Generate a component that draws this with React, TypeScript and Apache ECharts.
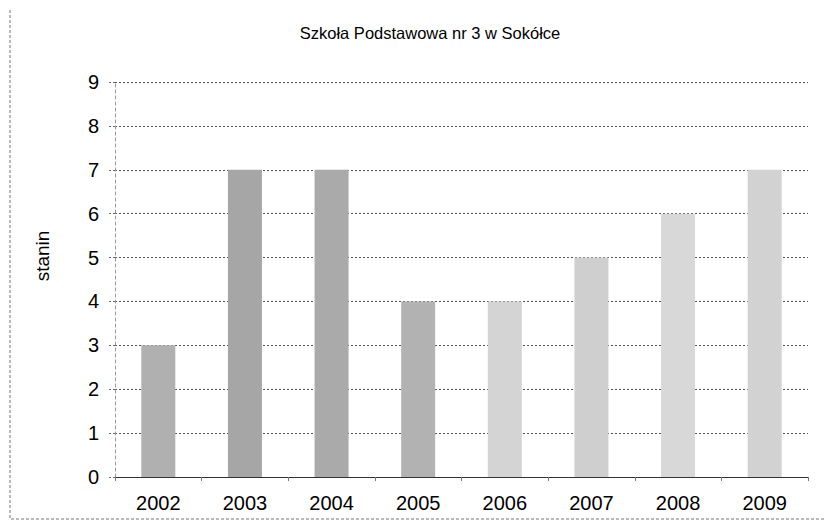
import React, { useEffect, useRef } from "react";
import * as echarts from "echarts";

const titleText = "Szkoła Podstawowa nr 3 w Sokółce";
const yAxisName = "stanin";
const years = ["2002", "2003", "2004", "2005", "2006", "2007", "2008", "2009"];
const stanin = [3, 7, 7, 4, 4, 5, 6, 7];
const barColors = ["#b0b0b0", "#a6a6a6", "#aaaaaa", "#b2b2b2", "#d4d4d4", "#cfcfcf", "#d8d8d8", "#d2d2d2"];

const FONT = "Liberation Sans, Arial, sans-serif";

export default function App() {
  const ref = useRef<HTMLDivElement>(null);
  useEffect(() => {
    if (!ref.current) return;
    const chart = echarts.init(ref.current, undefined, { renderer: "svg" });
    chart.setOption({
      animation: false,
      backgroundColor: "#ffffff",
      title: {
        text: titleText,
        left: 425,
        top: 19,
        textAlign: "center",
        textStyle: { fontFamily: FONT, fontSize: 16.5, fontWeight: "normal", color: "#000" },
      },
      graphic: [
        {
          type: "rect",
          shape: { x: 10, y: 2, width: 821, height: 517 },
          style: { fill: "none", stroke: "#777", lineWidth: 1, lineDash: [3, 2] },
          silent: true,
        },
        {
          type: "text",
          x: 42,
          y: 256,
          rotation: Math.PI / 2,
          style: {
            text: yAxisName,
            fontFamily: FONT,
            fontSize: 19,
            fill: "#000",
            align: "center",
            verticalAlign: "middle",
          },
          silent: true,
        },
      ],
      grid: { left: 115, right: 24, top: 82, bottom: 48 },
      xAxis: {
        type: "category",
        data: years,
        axisLine: { show: true, lineStyle: { color: "#333", width: 1 } },
        axisTick: { show: true, length: 4, lineStyle: { color: "#777" } },
        axisLabel: { fontFamily: FONT, fontSize: 20, color: "#000", margin: 16 },
      },
      yAxis: {
        type: "value",
        min: 0,
        max: 9,
        interval: 1,
        axisLine: { show: true, lineStyle: { color: "#999", width: 1, type: [3, 3] } },
        axisTick: { show: true, length: 6, lineStyle: { color: "#666", type: [2, 2] } },
        axisLabel: { fontFamily: FONT, fontSize: 20, color: "#000", margin: 16 },
        splitLine: { show: true, lineStyle: { color: "#555", width: 1, type: [2, 2] } },
      },
      series: [
        {
          type: "bar",
          data: stanin.map((v, i) => ({ value: v, itemStyle: { color: barColors[i] } })),
          barWidth: 34,
        },
      ],
    });
    return () => chart.dispose();
  }, []);
  return <div ref={ref} style={{ width: 832, height: 525, marginLeft: -8, marginTop: -8 }} />;
}
